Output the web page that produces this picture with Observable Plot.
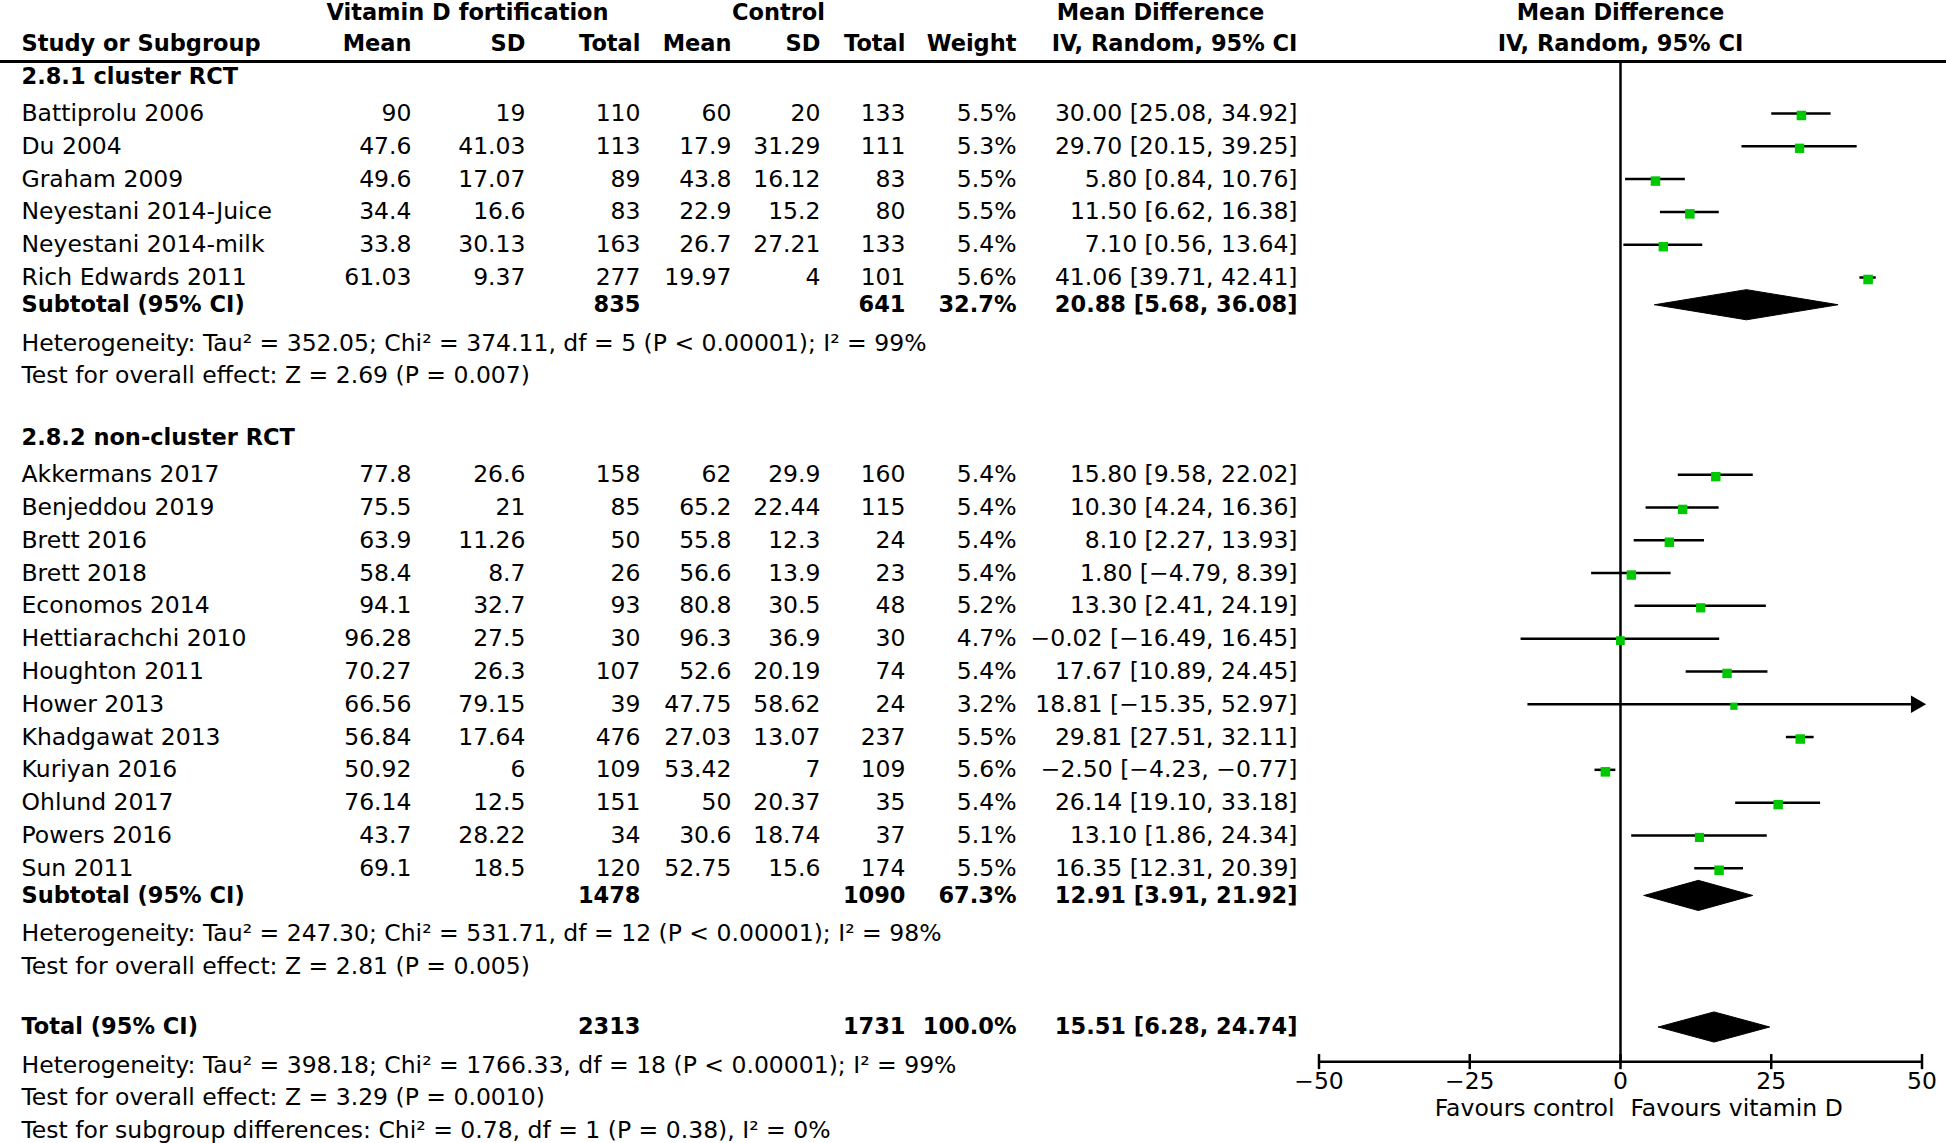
<!DOCTYPE html>
<html>
<head>
<meta charset="utf-8">
<script src="https://cdn.jsdelivr.net/npm/d3@7"></script>
<script src="https://cdn.jsdelivr.net/npm/@observablehq/plot@0.6"></script>
<style>
  html, body { margin: 0; padding: 0; background: #fff; }
</style>
</head>
<body>
<div id="chart"></div>
<script>
// ---------------- DATA ----------------
const studies = ["Battiprolu 2006","Du 2004","Graham 2009","Neyestani 2014-Juice","Neyestani 2014-milk","Rich Edwards 2011",
  "Akkermans 2017","Benjeddou 2019","Brett 2016","Brett 2018","Economos 2014","Hettiarachchi 2010","Houghton 2011",
  "Hower 2013","Khadgawat 2013","Kuriyan 2016","Ohlund 2017","Powers 2016","Sun 2011"];
const subgroupOf = [0,0,0,0,0,0, 1,1,1,1,1,1,1,1,1,1,1,1,1];
const vdMean  = [90,47.6,49.6,34.4,33.8,61.03, 77.8,75.5,63.9,58.4,94.1,96.28,70.27,66.56,56.84,50.92,76.14,43.7,69.1];
const vdSD    = [19,41.03,17.07,16.6,30.13,9.37, 26.6,21,11.26,8.7,32.7,27.5,26.3,79.15,17.64,6,12.5,28.22,18.5];
const vdTotal = [110,113,89,83,163,277, 158,85,50,26,93,30,107,39,476,109,151,34,120];
const ctMean  = [60,17.9,43.8,22.9,26.7,19.97, 62,65.2,55.8,56.6,80.8,96.3,52.6,47.75,27.03,53.42,50,30.6,52.75];
const ctSD    = [20,31.29,16.12,15.2,27.21,4, 29.9,22.44,12.3,13.9,30.5,36.9,20.19,58.62,13.07,7,20.37,18.74,15.6];
const ctTotal = [133,111,83,80,133,101, 160,115,24,23,48,30,74,24,237,109,35,37,174];
const weight  = [5.5,5.3,5.5,5.5,5.4,5.6, 5.4,5.4,5.4,5.4,5.2,4.7,5.4,3.2,5.5,5.6,5.4,5.1,5.5];
const md      = [30.00,29.70,5.80,11.50,7.10,41.06, 15.80,10.30,8.10,1.80,13.30,-0.02,17.67,18.81,29.81,-2.50,26.14,13.10,16.35];
const ciLow   = [25.08,20.15,0.84,6.62,0.56,39.71, 9.58,4.24,2.27,-4.79,2.41,-16.49,10.89,-15.35,27.51,-4.23,19.10,1.86,12.31];
const ciHigh  = [34.92,39.25,10.76,16.38,13.64,42.41, 22.02,16.36,13.93,8.39,24.19,16.45,24.45,52.97,32.11,-0.77,33.18,24.34,20.39];

const subgroups   = ["2.8.1 cluster RCT", "2.8.2 non-cluster RCT"];
const subVdTotal  = [835, 1478];
const subCtTotal  = [641, 1090];
const subWeight   = [32.7, 67.3];
const subMd       = [20.88, 12.91];
const subLow      = [5.68, 3.91];
const subHigh     = [36.08, 21.92];
const subHet = [
  "Heterogeneity: Tau² = 352.05; Chi² = 374.11, df = 5 (P < 0.00001); I² = 99%",
  "Heterogeneity: Tau² = 247.30; Chi² = 531.71, df = 12 (P < 0.00001); I² = 98%"
];
const subEffect = [
  "Test for overall effect: Z = 2.69 (P = 0.007)",
  "Test for overall effect: Z = 2.81 (P = 0.005)"
];
const totalVd = 2313, totalCt = 1731, totalWeight = 100.0, totalMd = 15.51, totalLow = 6.28, totalHigh = 24.74;
const totalNotes = [
  "Heterogeneity: Tau² = 398.18; Chi² = 1766.33, df = 18 (P < 0.00001); I² = 99%",
  "Test for overall effect: Z = 3.29 (P = 0.0010)",
  "Test for subgroup differences: Chi² = 0.78, df = 1 (P = 0.38), I² = 0%"
];
const axisTicks = [-50, -25, 0, 25, 50];
const favours = ["Favours control", "Favours vitamin D"];
const headerTop = [
  {text: "Vitamin D fortification", col: "vdSD"},
  {text: "Control", col: "ctSD"},
  {text: "Mean Difference", col: "mdText"},
  {text: "Mean Difference", col: "plot"}
];
const headerCols = ["Study or Subgroup","Mean","SD","Total","Mean","SD","Total","Weight","IV, Random, 95% CI"];

// ---------------- LAYOUT (row units) ----------------
const fmtNum = v => String(v).replace("-", "−");
const fmtCI = (m, l, h) => `${m.toFixed(2)} [${l.toFixed(2)}, ${h.toFixed(2)}]`.replace(/-/g, "−");

const groupRows = [], studyRows = [], subRows = [], noteRows = [];
let pos = -1.13, last = 0;
subgroups.forEach((name, g) => {
  groupRows.push({y: pos, label: name});
  const idx = studies.map((_, i) => i).filter(i => subgroupOf[i] === g);
  const first = pos + 1.13;
  idx.forEach((i, k) => studyRows.push({
    y: first + k, study: studies[i], vdMean: fmtNum(vdMean[i]), vdSD: fmtNum(vdSD[i]), vdTotal: String(vdTotal[i]),
    ctMean: fmtNum(ctMean[i]), ctSD: fmtNum(ctSD[i]), ctTotal: String(ctTotal[i]), weight: weight[i].toFixed(1) + "%",
    mdText: fmtCI(md[i], ciLow[i], ciHigh[i]), md: md[i], lo: ciLow[i], hi: ciHigh[i], w: weight[i]
  }));
  last = first + idx.length - 1;
  subRows.push({y: last + 0.83, study: "Subtotal (95% CI)", vdTotal: String(subVdTotal[g]), ctTotal: String(subCtTotal[g]),
    weight: subWeight[g].toFixed(1) + "%", mdText: fmtCI(subMd[g], subLow[g], subHigh[g]), md: subMd[g], lo: subLow[g], hi: subHigh[g]});
  noteRows.push({y: last + 2, text: subHet[g]}, {y: last + 3, text: subEffect[g]});
  pos = last + 4.88;
});
const totalY = last + 4.84;
subRows.push({y: totalY, study: "Total (95% CI)", vdTotal: String(totalVd), ctTotal: String(totalCt),
  weight: totalWeight.toFixed(1) + "%", mdText: fmtCI(totalMd, totalLow, totalHigh), md: totalMd, lo: totalLow, hi: totalHigh});
totalNotes.forEach((t, k) => noteRows.push({y: totalY + 1.16 + k, text: t}));

const header1Y = -3.08, header2Y = -2.13, ruleTopY = -1.585;
const axisY = totalY + 1.06, tickLabelY = axisY + 0.6, favY = axisY + 1.43;

// column anchors (pixels from left)
const colX = {study: 21, vdMean: 411, vdSD: 525, vdTotal: 640, ctMean: 731, ctSD: 820, ctTotal: 905, weight: 1016, mdText: 1297};
const colKeys = ["study","vdMean","vdSD","vdTotal","ctMean","ctSD","ctTotal","weight","mdText"];
const headerCenter = {vdSD: 467, ctSD: 778, mdText: 1160, plot: 1620};
const FS = 23.5, FSB = 22.5;

// diamonds
const diamonds = subRows.flatMap((r, id) => {
  const h = 0.46;
  return [
    {id, x: r.lo, y: r.y}, {id, x: r.md, y: r.y - h}, {id, x: r.hi, y: r.y}, {id, x: r.md, y: r.y + h}, {id, x: r.lo, y: r.y}
  ];
});

const textCol = (data, key, opts = {}) => Plot.text(data.filter(d => d[key] !== undefined), {
  y: "y", text: key, frameAnchor: "left", dx: colX[key], fontSize: FS,
  textAnchor: key === "study" ? "start" : "end", ...opts
});

const marks = [
  Plot.ruleY([ruleTopY], {stroke: "black", strokeWidth: 3}),
  ...headerTop.map(h => Plot.text([h], {y: () => header1Y, text: "text", frameAnchor: "left", dx: headerCenter[h.col], textAnchor: "middle", fontWeight: "bold", fontSize: FSB})),
  ...headerCols.map((t, k) => {
    const key = colKeys[k];
    return Plot.text([t], {y: () => header2Y, text: d => d, frameAnchor: "left", dx: colX[key],
      textAnchor: key === "study" ? "start" : "end", fontWeight: "bold", fontSize: FSB});
  }),
  Plot.text([headerCols[8]], {y: () => header2Y, text: d => d, frameAnchor: "left", dx: headerCenter.plot, textAnchor: "middle", fontWeight: "bold", fontSize: FSB}),
  Plot.text(groupRows, {y: "y", text: "label", frameAnchor: "left", dx: colX.study, textAnchor: "start", fontWeight: "bold", fontSize: FSB}),
  ...colKeys.map(k => textCol(studyRows, k)),
  ...["study","vdTotal","ctTotal","weight","mdText"].map(k => textCol(subRows, k, {fontWeight: "bold", fontSize: FSB})),
  Plot.text(noteRows, {y: "y", text: "text", frameAnchor: "left", dx: colX.study, textAnchor: "start", fontSize: FS}),
  Plot.ruleX([0], {y1: ruleTopY, y2: axisY, stroke: "black", strokeWidth: 2.5}),
  Plot.ruleY(studyRows, {y: "y", x1: d => Math.max(d.lo, -50), x2: d => Math.min(d.hi, 50), stroke: "black", strokeWidth: 2.5}),
  Plot.dot(studyRows.filter(d => d.hi > 50), {x: () => 50, y: "y", symbol: "triangle", rotate: 90, r: 6.5, fill: "black", stroke: "none", dx: -6}),
  Plot.dot(studyRows, {x: "md", y: "y", r: "w", symbol: "square", fill: "#00c800", stroke: "none", dy: 2}),
  Plot.line(diamonds, {x: "x", y: "y", z: "id", fill: "black", stroke: "black", strokeWidth: 1, curve: "linear"}),
  Plot.ruleY([axisY], {x1: -50, x2: 50, stroke: "black", strokeWidth: 2.5}),
  Plot.ruleX(axisTicks, {x: d => d, y1: axisY - 0.22, y2: axisY + 0.24, stroke: "black", strokeWidth: 2.5}),
  Plot.text(axisTicks, {x: d => d, y: () => tickLabelY, text: d => fmtNum(d), fontSize: FS}),
  Plot.text([favours[0]], {x: () => 0, y: () => favY, text: d => d, textAnchor: "end", dx: -6, fontSize: FS}),
  Plot.text([favours[1]], {x: () => 0, y: () => favY, text: d => d, textAnchor: "start", dx: 10, fontSize: FS})
];

const chart = Plot.plot({
  width: 1946,
  height: 1143,
  margin: 0,
  x: {type: "linear", domain: [-50, 50], range: [1318.5, 1921.5], axis: null},
  y: {type: "linear", domain: [0, 1], range: [113, 145.8], axis: null},
  r: {type: "sqrt", domain: [0, 6], range: [0, 5.6]},
  style: {fontFamily: "'DejaVu Sans', sans-serif", fontSize: "23px", background: "white", color: "black", overflow: "visible"},
  marks
});
document.getElementById("chart").appendChild(chart);
</script>
</body>
</html>
